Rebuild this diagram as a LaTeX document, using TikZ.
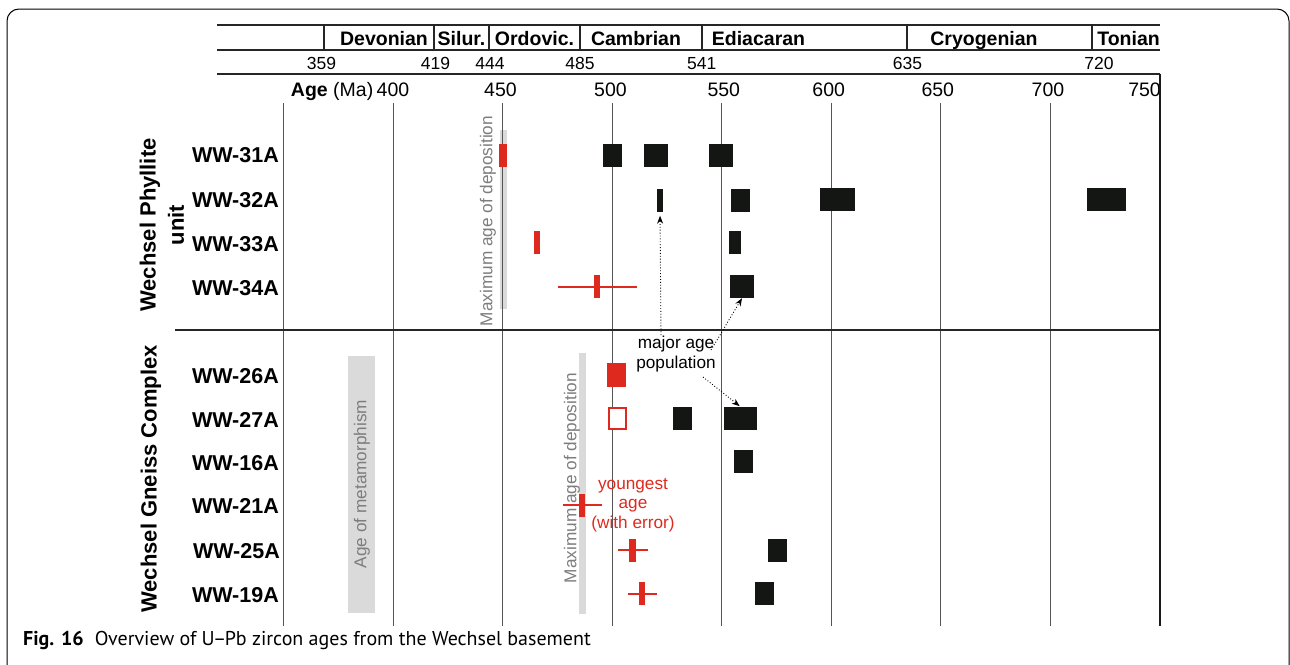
\documentclass[tikz,border=0pt]{standalone}
\usepackage{fontspec}
\setmainfont{Liberation Sans}
\newfontfamily\capfont{PT Sans}
\usetikzlibrary{arrows.meta}
\definecolor{zred}{RGB}{222,42,30}
\definecolor{zblk}{RGB}{20,22,20}
\definecolor{zgrayfill}{RGB}{218,218,218}
\definecolor{zgraytxt}{RGB}{125,125,125}
\definecolor{zgrid}{RGB}{85,85,85}
\begin{document}
\begin{tikzpicture}[x=1pt,y=-1pt,
  hline/.style={line width=1.8pt, black!85},
  divline/.style={line width=1.4pt, black!85},
  gridline/.style={line width=0.9pt, zgrid},
  period/.style={font=\fontsize{19.5}{22}\selectfont\bfseries, anchor=base, inner sep=0},
  bnum/.style={font=\fontsize{17.5}{20}\selectfont, anchor=base, inner sep=0},
  anum/.style={font=\fontsize{19.5}{22}\selectfont, anchor=base, inner sep=0},
  lbl/.style={font=\fontsize{21.5}{24}\selectfont\bfseries, anchor=east, inner sep=0},
  grp/.style={font=\fontsize{22}{25}\selectfont\bfseries, rotate=90, inner sep=0},
  graytxt/.style={font=\fontsize{17.2}{20}\selectfont, text=zgraytxt, rotate=90, inner sep=0},
  note/.style={font=\fontsize{17.2}{19.5}\selectfont, align=center, inner sep=0},
  blk/.style={rectangle, fill=zblk, draw=none, inner sep=0, minimum height=23},
  redbar/.style={rectangle, fill=zred, draw=none, inner sep=0, minimum height=23},
  redopen/.style={rectangle, fill=white, draw=zred, line width=2pt, inner sep=0, minimum height=21, minimum width=17},
  errline/.style={zred, line width=2pt},
  graybar/.style={rectangle, fill=zgrayfill, draw=none, inner sep=0},
  pointer/.style={dotted, line width=0.9pt, -{Stealth[length=8pt,width=6pt]}}
]
\useasboundingbox (0,0) rectangle (1290,664);
% frame
\draw[line width=1pt, rounded corners=12pt] (7,680) -- (7,9) -- (1289,9) -- (1289,680);

% header
\draw[hline] (217,25) -- (1160,25);
\draw[divline] (217,50) -- (1160,50);
\draw[hline] (217,74) -- (1160,74);
\foreach \xx in {324,434,489,580,702,907,1092} \draw[divline] (\xx,25) -- (\xx,50);
\node[period] (pdev) at (384,45.5) {Devonian};
\node[period] (psil) at (461.5,45.5) {Silur.};
\node[period] (pord) at (534.5,45.5) {Ordovic.};
\node[period] (pcam) at (636,45.5) {Cambrian};
\node[period] (pedi) at (758.5,45.5) {Ediacaran};
\node[period] (pcry) at (984,45.5) {Cryogenian};
\node[period] (pton) at (1128.5,45.5) {Tonian};
\node[bnum] (n359) at (321.5,69.5) {359};
\node[bnum] (n419) at (435.5,69.5) {419};
\node[bnum] (n444) at (490,69.5) {444};
\node[bnum] (n485) at (580,69.5) {485};
\node[bnum] (n541) at (701.7,69.5) {541};
\node[bnum] (n635) at (907.5,69.5) {635};
\node[bnum] (n720) at (1099,69.5) {720};
\node[anum, anchor=base east] (agelab) at (373.5,96.5) {\textbf{Age} (Ma)};
\node[anum] (a400) at (393,96.5) {400};
\node[anum] (a450) at (500.5,96.5) {450};
\node[anum] (a500) at (610.5,96.5) {500};
\node[anum] (a550) at (723.8,96.5) {550};
\node[anum] (a600) at (828.7,96.5) {600};
\node[anum] (a650) at (937.8,96.5) {650};
\node[anum] (a700) at (1048,96.5) {700};
\node[anum, anchor=base east] (a750) at (1161,96.5) {750};

% gray bands
\node[graybar, minimum width=7, minimum height=179] (gdep1) at (503.5,219.5) {};
\node[graybar, minimum width=7, minimum height=261] (gdep2) at (582.5,483.5) {};
\node[graybar, minimum width=27, minimum height=257] (gmet) at (361.5,484.5) {};

% grid
\foreach \xx in {283.8,393.3,502.8,612.3,721.8,831.3,940.8,1050.3} \draw[gridline] (\xx,103) -- (\xx,626);
\draw[line width=2pt, black!90] (1160,74) -- (1160,626);
\draw[line width=1.8pt, black!85] (175,330) -- (1160,330);

% gray texts
\node[graytxt] (tdep1) at (488,221) {Maximum age of deposition};
\node[graytxt] (tdep2) at (572,478) {Maximum age of deposition};
\node[graytxt] (tmet) at (362,484) {Age of metamorphism};

% group labels
\node[grp] (gphy) at (150,225) {Wechsel Phyllite};
\node[grp] (gunit) at (176,225) {unit};
\node[grp] (ggn) at (151,479) {Wechsel Gneiss Complex};

% sample labels
\node[lbl] (l31) at (279,155.5) {WW-31A};
\node[lbl] (l32) at (279,200) {WW-32A};
\node[lbl] (l33) at (279,244) {WW-33A};
\node[lbl] (l34) at (279,288) {WW-34A};
\node[lbl] (l26) at (279,376.5) {WW-26A};
\node[lbl] (l27) at (279,419.5) {WW-27A};
\node[lbl] (l16) at (279,463) {WW-16A};
\node[lbl] (l21) at (279,506) {WW-21A};
\node[lbl] (l25) at (280,551.5) {WW-25A};
\node[lbl] (l19) at (279,595) {WW-19A};

% WW-31A
\node[redbar, minimum width=8] (r31) at (503,155) {};
\node[blk, minimum width=19] (b31a) at (612.5,155) {};
\node[blk, minimum width=24] (b31b) at (656,155) {};
\node[blk, minimum width=24] (b31c) at (721,155) {};
% WW-32A
\node[blk, minimum width=6] (b32a) at (660,200) {};
\node[blk, minimum width=19] (b32b) at (740.5,200) {};
\node[blk, minimum width=35] (b32c) at (837.5,199) {};
\node[blk, minimum width=39] (b32d) at (1106.5,199) {};
% WW-33A
\node[redbar, minimum width=6] (r33) at (537,242.5) {};
\node[blk, minimum width=12] (b33a) at (735,242.5) {};
% WW-34A
\coordinate (e34l) at (558,286.5);
\coordinate (e34r) at (637,286.5);
\draw[errline] (e34l) -- (e34r);
\node[redbar, minimum width=6] (r34) at (597,286.5) {};
\node[blk, minimum width=24] (b34a) at (742,286.5) {};
% WW-26A
\node[redbar, minimum width=19, minimum height=24] (r26) at (616.5,375) {};
% WW-27A
\node[redopen] (r27) at (617,418.5) {};
\node[blk, minimum width=19] (b27a) at (682.5,418.5) {};
\node[blk, minimum width=33] (b27b) at (740.5,418.5) {};
% WW-16A
\node[blk, minimum width=19] (b16a) at (743.5,461.5) {};
% WW-21A
\coordinate (e21l) at (563,505);
\coordinate (e21r) at (602,505);
\draw[errline] (e21l) -- (e21r);
\node[redbar, minimum width=6] (r21) at (582,505.5) {};
% WW-25A
\coordinate (e25l) at (618,549.5);
\coordinate (e25r) at (648,549.5);
\draw[errline] (e25l) -- (e25r);
\node[redbar, minimum width=7] (r25) at (632.5,550) {};
\node[blk, minimum width=19] (b25a) at (777.5,550.5) {};
% WW-19A
\coordinate (e19l) at (628,593.5);
\coordinate (e19r) at (657,593.5);
\draw[errline] (e19l) -- (e19r);
\node[redbar, minimum width=6] (r19) at (642,593.5) {};
\node[blk, minimum width=19] (b19a) at (764.5,593.5) {};

% annotations
\node[note] (major) at (676,354) {major age\\population};
\node[note, text=zred] (young) at (633,505) {youngest\\age\\(with error)};
\coordinate (p1) at (661,335);
\coordinate (p2) at (711,350);
\coordinate (p3) at (703,377);
\draw[pointer, shorten >=4pt] (p1) -- (b32a.south);
\draw[pointer] (p2) -- (b34a.south);
\draw[pointer, shorten >=1pt] (p3) -- (b27b.north);

% caption
\node[anchor=base west, inner sep=0, font=\capfont\fontsize{20}{23}\selectfont] (cap) at (23,645) {\textbf{Fig. 16}\hspace{0.55em}Overview of U\kern-0.08em–\kern-0.08em Pb zircon ages from the Wechsel basement};
\end{tikzpicture}
\end{document}
